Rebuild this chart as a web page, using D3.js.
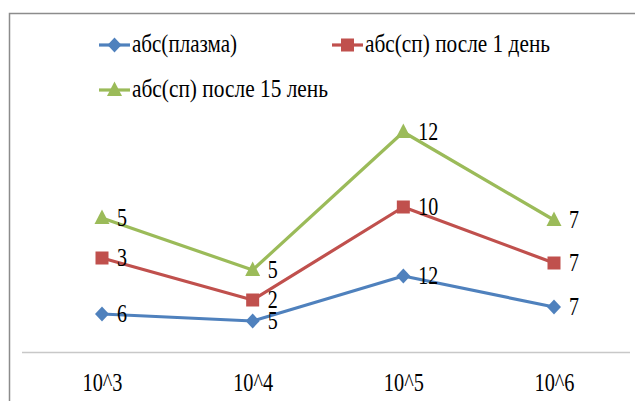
<!DOCTYPE html>
<html><head><meta charset="utf-8">
<script src="https://cdn.jsdelivr.net/npm/d3@7"></script>
<style>body{margin:0;background:#fff}svg{display:block}
svg text{font-family:"Liberation Serif" !important;}</style>
</head><body>
<script>
const categories = ["10^3","10^4","10^5","10^6"];
const seriesNames = ["абс(плазма)","абс(сп) после 1 день","абс(сп) после 15 лень"];
const plasma = [3.8, 3.1, 7.6, 4.5];
const sp1 = [9.4, 5.2, 14.5, 8.9];
const sp15 = [13.4, 8.2, 22.0, 13.2];
const plasmaLabels = [6, 5, 12, 7];
const sp1Labels = [3, 2, 10, 7];
const sp15Labels = [5, 5, 12, 7];
const colors = ["#4F81BD","#C0504D","#9BBB59"];

const W = 635, H = 401;
const F = '"Liberation Serif"';
const FS = 20, SY = 1.25;
const svg = d3.select("body").append("svg").attr("width", W).attr("height", H)
  .style("font-family", F);

function addText(parent, tx, ty, str, anchor, len) {
  const t = parent.append("text")
    .attr("transform", `translate(${tx},${ty}) scale(1,${SY})`)
    .attr("dominant-baseline", "middle")
    .attr("text-anchor", anchor || "start")
    .attr("font-family", "Liberation Serif")
    .style("font-family", F).style("font-size", FS + "px")
    .attr("fill", "#000")
    .text(str);
  if (len) t.attr("textLength", len).attr("lengthAdjust", "spacingAndGlyphs");
  return t;
}

svg.append("path").attr("d", `M9.5,${H}V13.5H${W}`).attr("fill","none").attr("stroke","#8c8c8c").attr("stroke-width",1.5);

const x = d3.scalePoint().domain(categories).range([102, 554]);
const y = d3.scaleLinear().domain([0, 24]).range([352, 112]);

const gx = svg.append("g").attr("transform","translate(0,352)")
  .call(d3.axisBottom(x).tickSize(0).tickPadding(0));
gx.select(".domain").remove();
gx.attr("font-family", null).attr("font-size", null);
svg.append("line").attr("x1",22).attr("x2",630).attr("y1",352.5).attr("y2",352.5)
  .attr("stroke","#c8c8c8").attr("stroke-width",1.5);
gx.selectAll(".tick text").remove();
gx.selectAll(".tick").each(function(d) { addText(d3.select(this), 0, 33, d, "middle", 40); });

function marker(g, i, cx, cy) {
  if (i === 0) {
    g.append("path").attr("d", "M0,-7.5L7,0L0,7.5L-7,0Z").attr("transform",`translate(${cx},${cy})`).attr("fill",colors[0]);
  } else if (i === 1) {
    g.append("rect").attr("x",cx-6.5).attr("y",cy-6.5).attr("width",13).attr("height",13).attr("fill",colors[1]);
  } else {
    g.append("path").attr("d", "M0,-8.5L7.5,6L-7.5,6Z").attr("transform",`translate(${cx},${cy})`).attr("fill",colors[2]);
  }
}

const series = [
  {vals: plasma, labels: plasmaLabels},
  {vals: sp1, labels: sp1Labels},
  {vals: sp15, labels: sp15Labels}
];
const line = d3.line().x((d,i)=>x(categories[i])).y(d=>y(d));
series.forEach((s, si) => {
  const g = svg.append("g");
  g.append("path").attr("d", line(s.vals)).attr("fill","none").attr("stroke",colors[si]).attr("stroke-width",3.2).attr("stroke-linejoin","round");
  s.vals.forEach((v, i) => marker(g, si, x(categories[i]), y(v)));
  s.vals.forEach((v, i) => addText(g, x(categories[i]) + 15, y(v) + 2, String(s.labels[i])));
});

const legendPos = [[99,45],[332,45],[99,90]];
const legendLen = [105, 185, 196];
seriesNames.forEach((n, i) => {
  const [lx, ly] = legendPos[i];
  const g = svg.append("g");
  g.append("line").attr("x1",lx).attr("x2",lx+31).attr("y1",ly).attr("y2",ly).attr("stroke",colors[i]).attr("stroke-width",3.2);
  marker(g, i, lx+15.5, ly);
  addText(g, lx + 33, ly + 1, n, "start", legendLen[i]);
});
</script>
</body></html>
